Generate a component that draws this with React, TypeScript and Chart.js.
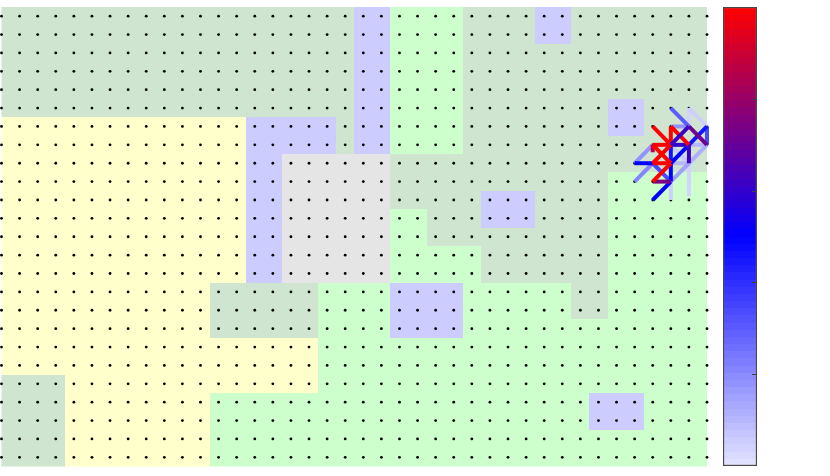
import React, { useEffect, useRef } from "react";
import { Chart, registerables } from "chart.js";

Chart.register(...registerables);

// Region grid: one string per row (top to bottom), one letter per column.
const regionRows: string[] = [
  "GGGGGGGGGGGGGGGGGGGGBBLLLLGGGGBBGGGGGGGG",
  "GGGGGGGGGGGGGGGGGGGGBBLLLLGGGGBBGGGGGGGG",
  "GGGGGGGGGGGGGGGGGGGGBBLLLLGGGGGGGGGGGGGG",
  "GGGGGGGGGGGGGGGGGGGGBBLLLLGGGGGGGGGGGGGG",
  "GGGGGGGGGGGGGGGGGGGGBBLLLLGGGGGGGGGGGGGG",
  "GGGGGGGGGGGGGGGGGGGGBBLLLLGGGGGGGGBBGGGG",
  "YYYYYYYYYYYYYYBBBBBGBBLLLLGGGGGGGGBBGGGG",
  "YYYYYYYYYYYYYYBBBBBGBBLLLLGGGGGGGGGGGGGG",
  "YYYYYYYYYYYYYYBBWWWWWWGGGGGGGGGGGGGGGGGG",
  "YYYYYYYYYYYYYYBBWWWWWWGGGGGGGGGGGGLLLLLL",
  "YYYYYYYYYYYYYYBBWWWWWWGGGGGBBBGGGGLLLLLL",
  "YYYYYYYYYYYYYYBBWWWWWWLLGGGBBBGGGGLLLLLL",
  "YYYYYYYYYYYYYYBBWWWWWWLLGGGGGGGGGGLLLLLL",
  "YYYYYYYYYYYYYYBBWWWWWWLLLLLGGGGGGGLLLLLL",
  "YYYYYYYYYYYYYYBBWWWWWWLLLLLGGGGGGGLLLLLL",
  "YYYYYYYYYYYYGGGGGGLLLLBBBBLLLLLLGGLLLLLL",
  "YYYYYYYYYYYYGGGGGGLLLLBBBBLLLLLLGGLLLLLL",
  "YYYYYYYYYYYYGGGGGGLLLLBBBBLLLLLLLLLLLLLL",
  "YYYYYYYYYYYYYYYYYYLLLLLLLLLLLLLLLLLLLLLL",
  "YYYYYYYYYYYYYYYYYYLLLLLLLLLLLLLLLLLLLLLL",
  "GGGGYYYYYYYYYYYYYYLLLLLLLLLLLLLLLLLLLLLL",
  "GGGGYYYYYYYYLLLLLLLLLLLLLLLLLLLLLBBBLLLL",
  "GGGGYYYYYYYYLLLLLLLLLLLLLLLLLLLLLBBBLLLL",
  "GGGGYYYYYYYYLLLLLLLLLLLLLLLLLLLLLLLLLLLL",
  "GGGGYYYYYYYYLLLLLLLLLLLLLLLLLLLLLLLLLLLL",
];
const regionColors: Record<string, string> = {
  G: "#cfe5cf",
  Y: "#ffffcc",
  B: "#ccccff",
  L: "#ccffcc",
  W: "#e5e5e5",
};

// Arrow strokes, bottom to top: from column, from row, to column, to row, value.
const strokes: [number, number, number, number, number][] = [
  [38, 5, 38, 6, 0.2],
  [38, 5, 39, 6, 0.25],
  [38, 8, 38, 9.8, 0.2],
  [37, 9, 37, 10, 0.25],
  [37, 7, 38, 8, 0.3],
  [37, 8, 38, 8, 0.5],
  [38, 7, 39, 7, 0.5],
  [39, 7, 38, 8, 0.6],
  [38, 8, 37, 9, 0.75],
  [37, 6, 38, 6, 0.9],
  [35, 8, 36, 7, 0.9],
  [35, 9, 36, 8, 1.05],
  [37, 5, 38, 6, 1.5],
  [39, 6, 39, 7, 1.7],
  [36, 8, 37, 9, 1.7],
  [39, 6, 38, 7, 2.3],
  [37, 7, 37, 8, 2.3],
  [38, 7, 37, 8, 2.5],
  [37, 8, 37, 9, 2.5],
  [37, 9, 36, 10, 2.5],
  [35, 8, 36, 8, 2.5],
  [37, 7, 38, 7, 3.0],
  [38, 7, 38, 8, 3.1],
  [38, 6, 39, 7, 3.6],
  [36, 9, 37, 9, 3.7],
  [36, 7, 36, 7.4, 4.4],
  [36, 6, 37, 7, 5],
  [37, 6, 37, 7, 5],
  [37, 6, 38, 7, 5],
  [36, 7, 37, 7, 5],
  [36, 7, 37, 8, 5],
  [37, 7, 36, 8, 5],
  [36, 8, 37, 8, 5],
  [37, 8, 36, 9, 5],
  [38, 6, 37, 7, 3.1],
];

const columns = 40;
const rows = 25;
const colorbarTicks = [1, 2, 3, 4];
const colorbarMin = 0;
const colorbarMax = 5;
const colorbarLevels = 64;

function mapColor(v: number): string {
  const mid = 2.5;
  let r: number, g: number, b: number;
  if (v <= mid) {
    const t = v / mid;
    r = 229 * (1 - t);
    g = 229 * (1 - t);
    b = 255;
  } else {
    const t = (v - mid) / (colorbarMax - mid);
    r = 255 * t;
    g = 0;
    b = 255 * (1 - t);
  }
  return `rgb(${Math.round(r)},${Math.round(g)},${Math.round(b)})`;
}

const dotPoints: { x: number; y: number }[] = [];
for (let r = 0; r < rows; r++) {
  for (let c = 0; c < columns; c++) dotPoints.push({ x: c, y: r });
}

const cellPlugin = {
  id: "regionCells",
  beforeDatasetsDraw(chart: any) {
    const { ctx, chartArea, scales } = chart;
    ctx.save();
    ctx.beginPath();
    ctx.rect(chartArea.left, chartArea.top, chartArea.right - chartArea.left, chartArea.bottom - chartArea.top);
    ctx.clip();
    regionRows.forEach((row, r) => {
      const y0 = Math.round(scales.y.getPixelForValue(r - 0.5));
      const y1 = Math.round(scales.y.getPixelForValue(r + 0.5));
      for (let c = 0; c < columns; c++) {
        const x0 = Math.round(scales.x.getPixelForValue(c - 0.5));
        const x1 = Math.round(scales.x.getPixelForValue(c + 0.5));
        ctx.fillStyle = regionColors[row[c]];
        ctx.fillRect(x0, y0, x1 - x0, y1 - y0);
      }
    });
    ctx.restore();
  },
};

const colorbarTickPlugin = {
  id: "colorbarTicks",
  afterDatasetsDraw(chart: any) {
    const { ctx, chartArea, scales } = chart;
    ctx.save();
    ctx.strokeStyle = "#404040";
    ctx.lineWidth = 1;
    colorbarTicks.forEach((t) => {
      const y = Math.round(scales.y.getPixelForValue(t)) + 0.5;
      ctx.beginPath();
      ctx.moveTo(chartArea.right, y);
      ctx.lineTo(chartArea.right - 5, y);
      ctx.stroke();
    });
    ctx.restore();
  },
};

export default function App() {
  const mainRef = useRef<HTMLCanvasElement>(null);
  const barRef = useRef<HTMLCanvasElement>(null);

  useEffect(() => {
    const strokeSets = strokes.map(([c0, r0, c1, r1, v], i) => ({
      type: "scatter" as const,
      data: [
        { x: c0, y: r0 },
        { x: c1, y: r1 },
      ],
      showLine: true,
      borderColor: mapColor(v),
      backgroundColor: mapColor(v),
      borderWidth: 4,
      pointRadius: 0,
      clip: false as any,
      order: strokes.length - i,
    }));

    const main = new Chart(mainRef.current!, {
      type: "scatter",
      data: {
        datasets: [
          ...strokeSets,
          {
            type: "scatter" as const,
            data: dotPoints,
            backgroundColor: "#000000",
            borderWidth: 0,
            pointRadius: 1.4,
            clip: false as any,
            order: 1000,
          },
        ],
      },
      options: {
        animation: false,
        responsive: false,
        layout: { autoPadding: false, padding: { left: 1.5, right: 123, top: 7, bottom: 9.5 } },
        plugins: { legend: { display: false }, tooltip: { enabled: false } },
        scales: {
          x: { type: "linear", min: 0, max: columns - 1, display: false },
          y: { type: "linear", min: -0.5, max: rows - 0.5, reverse: true, display: false },
        },
      },
      plugins: [cellPlugin],
    });

    const bar = new Chart(barRef.current!, {
      type: "bar",
      data: {
        labels: [""],
        datasets: [
          {
            data: [[colorbarMin, colorbarMax]] as any,
            barPercentage: 1,
            categoryPercentage: 1,
            borderColor: "#484848",
            borderWidth: 1.5,
            borderSkipped: false,
            backgroundColor: (ctx: any) => {
              const area = ctx.chart.chartArea;
              if (!area) return "#000";
              const g = ctx.chart.ctx.createLinearGradient(0, area.bottom, 0, area.top);
              for (let i = 0; i < colorbarLevels; i++) {
                const v = ((i + 0.5) / colorbarLevels) * colorbarMax;
                g.addColorStop(i / colorbarLevels, mapColor(v));
                g.addColorStop((i + 1) / colorbarLevels, mapColor(v));
              }
              return g;
            },
          },
        ],
      },
      options: {
        animation: false,
        responsive: false,
        layout: { padding: { left: 723, right: 73, top: 7, bottom: 10 } },
        plugins: { legend: { display: false }, tooltip: { enabled: false } },
        scales: {
          x: { display: false },
          y: { type: "linear", min: colorbarMin, max: colorbarMax, display: false },
        },
      },
      plugins: [colorbarTickPlugin],
    });

    return () => {
      main.destroy();
      bar.destroy();
    };
  }, []);

  const style: React.CSSProperties = { position: "absolute", left: 0, top: 0, display: "block" };
  return (
    <div style={{ position: "absolute", left: 0, top: 0, width: 830, height: 476, background: "#fff" }}>
      <canvas ref={mainRef} width={830} height={476} style={style} />
      <canvas ref={barRef} width={830} height={476} style={style} />
    </div>
  );
}
